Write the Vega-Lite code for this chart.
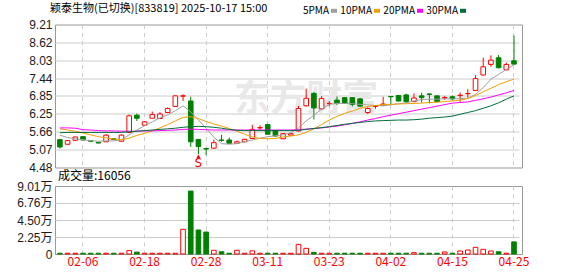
{
  "$schema": "https://vega.github.io/schema/vega-lite/v6.json",
  "background": "white",
  "padding": {"left": 16, "top": 2.5, "right": 0, "bottom": 0},
  "config": {
    "view": {"stroke": "#999999", "strokeWidth": 1},
    "font": "Noto Sans CJK SC"
  },
  "title": {
    "text": "颖泰生物(已切换)[833819] 2025-10-17 15:00",
    "anchor": "start",
    "frame": "group",
    "font": "Noto Sans CJK SC",
    "fontSize": 11,
    "fontWeight": "normal",
    "color": "#000000",
    "dx": -5,
    "dy": 8.5,
    "offset": 0
  },
  "datasets": {
    "k": [
      {"d":"01-27","o":5.40,"h":5.42,"l":5.11,"c":5.16,"v":1000,"m5":5.55,"m10":5.76,"m20":5.79,"m30":5.63},
      {"d":"02-04","o":5.25,"h":5.38,"l":5.24,"c":5.37,"v":1000,"m5":5.47,"m10":5.72,"m20":5.79,"m30":5.64},
      {"d":"02-05","o":5.38,"h":5.50,"l":5.37,"c":5.49,"v":1000,"m5":5.43,"m10":5.68,"m20":5.78,"m30":5.64},
      {"d":"02-06","o":5.50,"h":5.51,"l":5.38,"c":5.39,"v":1000,"m5":5.40,"m10":5.62,"m20":5.73,"m30":5.64},
      {"d":"02-07","o":5.37,"h":5.38,"l":5.34,"c":5.35,"v":1000,"m5":5.37,"m10":5.56,"m20":5.72,"m30":5.64},
      {"d":"02-10","o":5.31,"h":5.32,"l":5.28,"c":5.29,"v":1000,"m5":5.35,"m10":5.50,"m20":5.70,"m30":5.64},
      {"d":"02-11","o":5.33,"h":5.58,"l":5.32,"c":5.55,"v":1000,"m5":5.36,"m10":5.46,"m20":5.69,"m30":5.64},
      {"d":"02-12","o":5.43,"h":5.44,"l":5.40,"c":5.41,"v":1000,"m5":5.36,"m10":5.42,"m20":5.69,"m30":5.64},
      {"d":"02-13","o":5.35,"h":5.58,"l":5.33,"c":5.55,"v":1000,"m5":5.40,"m10":5.40,"m20":5.68,"m30":5.64},
      {"d":"02-14","o":5.64,"h":6.23,"l":5.62,"c":6.19,"v":4500,"m5":5.56,"m10":5.45,"m20":5.68,"m30":5.66},
      {"d":"02-17","o":6.21,"h":6.26,"l":6.02,"c":6.11,"v":2500,"m5":5.72,"m10":5.54,"m20":5.68,"m30":5.68},
      {"d":"02-18","o":5.88,"h":6.02,"l":5.87,"c":5.99,"v":1000,"m5":5.86,"m10":5.61,"m20":5.69,"m30":5.70},
      {"d":"02-19","o":6.11,"h":6.33,"l":6.10,"c":6.23,"v":1000,"m5":5.99,"m10":5.69,"m20":5.69,"m30":5.72},
      {"d":"02-20","o":6.10,"h":6.31,"l":6.08,"c":6.25,"v":1000,"m5":6.12,"m10":5.79,"m20":5.70,"m30":5.74},
      {"d":"02-21","o":6.30,"h":6.47,"l":6.28,"c":6.43,"v":1000,"m5":6.22,"m10":5.90,"m20":5.71,"m30":5.76},
      {"d":"02-24","o":6.50,"h":6.86,"l":6.48,"c":6.85,"v":1000,"m5":6.36,"m10":6.02,"m20":5.72,"m30":5.78},
      {"d":"02-25","o":6.84,"h":6.90,"l":6.68,"c":6.85,"v":32700,"m5":6.52,"m10":6.14,"m20":5.74,"m30":5.81},
      {"d":"02-26","o":6.68,"h":6.82,"l":5.16,"c":5.33,"v":83400,"m5":6.32,"m10":6.16,"m20":5.75,"m30":5.83},
      {"d":"02-27","o":5.41,"h":5.42,"l":4.92,"c":5.17,"v":31800,"m5":6.05,"m10":6.10,"m20":5.74,"m30":5.84},
      {"d":"02-28","o":5.11,"h":5.11,"l":4.89,"c":5.09,"v":29100,"m5":5.78,"m10":6.00,"m20":5.73,"m30":5.83},
      {"d":"03-03","o":5.12,"h":5.40,"l":5.10,"c":5.30,"v":4900,"m5":5.48,"m10":5.92,"m20":5.72,"m30":5.81},
      {"d":"03-04","o":5.39,"h":5.56,"l":5.33,"c":5.38,"v":3000,"m5":5.27,"m10":5.85,"m20":5.72,"m30":5.78},
      {"d":"03-05","o":5.39,"h":5.47,"l":5.28,"c":5.28,"v":1000,"m5":5.25,"m10":5.77,"m20":5.72,"m30":5.74},
      {"d":"03-06","o":5.28,"h":5.37,"l":5.27,"c":5.33,"v":4900,"m5":5.27,"m10":5.68,"m20":5.72,"m30":5.71},
      {"d":"03-07","o":5.33,"h":5.43,"l":5.32,"c":5.41,"v":1000,"m5":5.33,"m10":5.58,"m20":5.72,"m30":5.70},
      {"d":"03-08","o":5.44,"h":5.89,"l":5.42,"c":5.74,"v":4200,"m5":5.39,"m10":5.49,"m20":5.72,"m30":5.70},
      {"d":"03-10","o":5.79,"h":5.88,"l":5.73,"c":5.80,"v":1000,"m5":5.45,"m10":5.44,"m20":5.72,"m30":5.70},
      {"d":"03-11","o":5.90,"h":5.93,"l":5.57,"c":5.58,"v":1000,"m5":5.50,"m10":5.43,"m20":5.72,"m30":5.70},
      {"d":"03-12","o":5.70,"h":5.72,"l":5.51,"c":5.52,"v":1000,"m5":5.53,"m10":5.44,"m20":5.72,"m30":5.70},
      {"d":"03-13","o":5.43,"h":5.62,"l":5.42,"c":5.60,"v":1000,"m5":5.56,"m10":5.49,"m20":5.72,"m30":5.70},
      {"d":"03-14","o":5.55,"h":5.61,"l":5.54,"c":5.60,"v":1000,"m5":5.63,"m10":5.52,"m20":5.72,"m30":5.70},
      {"d":"03-17","o":5.69,"h":6.52,"l":5.67,"c":6.43,"v":12800,"m5":5.79,"m10":5.56,"m20":5.73,"m30":5.71},
      {"d":"03-18","o":6.52,"h":7.09,"l":6.50,"c":6.77,"v":7500,"m5":6.02,"m10":5.64,"m20":5.75,"m30":5.74},
      {"d":"03-19","o":6.93,"h":6.98,"l":6.07,"c":6.45,"v":2200,"m5":6.21,"m10":5.76,"m20":5.77,"m30":5.77},
      {"d":"03-20","o":6.42,"h":6.84,"l":6.40,"c":6.76,"v":1000,"m5":6.41,"m10":5.90,"m20":5.79,"m30":5.80},
      {"d":"03-23","o":6.59,"h":6.68,"l":6.50,"c":6.60,"v":1000,"m5":6.57,"m10":6.05,"m20":5.82,"m30":5.83},
      {"d":"03-24","o":6.71,"h":6.83,"l":6.55,"c":6.60,"v":1000,"m5":6.60,"m10":6.17,"m20":5.85,"m30":5.87},
      {"d":"03-25","o":6.79,"h":6.80,"l":6.59,"c":6.60,"v":1000,"m5":6.60,"m10":6.27,"m20":5.89,"m30":5.91},
      {"d":"03-26","o":6.79,"h":6.80,"l":6.50,"c":6.56,"v":1000,"m5":6.59,"m10":6.35,"m20":5.94,"m30":5.94},
      {"d":"03-27","o":6.75,"h":6.77,"l":6.50,"c":6.51,"v":1000,"m5":6.57,"m10":6.44,"m20":5.99,"m30":5.97},
      {"d":"03-28","o":6.30,"h":6.47,"l":6.25,"c":6.43,"v":1000,"m5":6.55,"m10":6.50,"m20":6.05,"m30":6.00},
      {"d":"03-31","o":6.50,"h":6.55,"l":6.42,"c":6.51,"v":1000,"m5":6.53,"m10":6.53,"m20":6.10,"m30":6.02},
      {"d":"04-01","o":6.54,"h":6.82,"l":6.53,"c":6.58,"v":1000,"m5":6.52,"m10":6.56,"m20":6.16,"m30":6.03},
      {"d":"04-02","o":6.83,"h":6.84,"l":6.57,"c":6.82,"v":1000,"m5":6.55,"m10":6.57,"m20":6.21,"m30":6.04},
      {"d":"04-03","o":6.86,"h":6.88,"l":6.66,"c":6.68,"v":1000,"m5":6.59,"m10":6.58,"m20":6.26,"m30":6.05},
      {"d":"04-07","o":6.88,"h":6.92,"l":6.61,"c":6.66,"v":1000,"m5":6.62,"m10":6.59,"m20":6.31,"m30":6.05},
      {"d":"04-08","o":6.66,"h":6.93,"l":6.64,"c":6.78,"v":1800,"m5":6.68,"m10":6.60,"m20":6.36,"m30":6.06},
      {"d":"04-09","o":6.85,"h":6.95,"l":6.63,"c":6.79,"v":1000,"m5":6.73,"m10":6.61,"m20":6.41,"m30":6.08},
      {"d":"04-10","o":6.91,"h":6.94,"l":6.60,"c":6.90,"v":1000,"m5":6.74,"m10":6.63,"m20":6.46,"m30":6.11},
      {"d":"04-11","o":6.85,"h":6.86,"l":6.64,"c":6.66,"v":1000,"m5":6.74,"m10":6.64,"m20":6.51,"m30":6.13},
      {"d":"04-14","o":6.78,"h":6.85,"l":6.72,"c":6.79,"v":2700,"m5":6.75,"m10":6.66,"m20":6.56,"m30":6.15},
      {"d":"04-15","o":6.82,"h":6.86,"l":6.70,"c":6.75,"v":1000,"m5":6.75,"m10":6.68,"m20":6.61,"m30":6.18},
      {"d":"04-16","o":6.86,"h":6.96,"l":6.65,"c":6.87,"v":4000,"m5":6.76,"m10":6.71,"m20":6.63,"m30":6.24},
      {"d":"04-17","o":6.92,"h":7.07,"l":6.79,"c":6.93,"v":5300,"m5":6.77,"m10":6.76,"m20":6.65,"m30":6.30},
      {"d":"04-18","o":7.03,"h":7.53,"l":7.01,"c":7.42,"v":8800,"m5":6.90,"m10":6.86,"m20":6.70,"m30":6.36},
      {"d":"04-21","o":7.54,"h":8.11,"l":7.52,"c":7.81,"v":6200,"m5":7.12,"m10":6.98,"m20":6.75,"m30":6.44},
      {"d":"04-22","o":7.89,"h":8.19,"l":7.81,"c":8.03,"v":4000,"m5":7.40,"m10":7.10,"m20":6.81,"m30":6.52},
      {"d":"04-23","o":8.11,"h":8.20,"l":7.76,"c":7.78,"v":3000,"m5":7.56,"m10":7.22,"m20":6.88,"m30":6.62},
      {"d":"04-24","o":7.71,"h":7.95,"l":7.70,"c":7.89,"v":1000,"m5":7.72,"m10":7.32,"m20":6.95,"m30":6.74},
      {"d":"04-25","o":8.01,"h":8.85,"l":7.88,"c":7.90,"v":16056,"m5":7.88,"m10":7.40,"m20":7.03,"m30":6.85}
    ],
    "sig": [{"d":"02-27","p":4.85,"s":4.64,"t":"S"}],
    "wm": [{"d":"03-18","p":6.72,"t":"东方财富"}]
  },
  "spacing": -5.5,
  "vconcat": [
    {
      "width": 467,
      "height": 143,
      "encoding": {
        "x": {
          "field": "d",
          "type": "ordinal",
          "scale": {"type": "band", "range": [0, 463.9], "paddingInner": 0.4, "paddingOuter": 0.337},
          "axis": {
            "values": ["02-06","02-18","02-28","03-11","03-23","04-02","04-15","04-25"],
            "labels": false, "ticks": false, "domain": false,
            "grid": true, "gridDash": [4, 4], "gridColor": "#cccccc", "bandPosition": 0.5,
            "title": null
          }
        },
        "y": {
          "type": "quantitative",
          "scale": {"domain": [4.48, 9.21], "nice": false, "zero": false},
          "axis": {
            "values": [4.48, 5.07, 5.66, 6.25, 6.85, 7.44, 8.03, 8.62, 9.21],
            "format": ".2f", "grid": true, "gridColor": "#cccccc",
            "gridOpacity": {"condition": {"test": "datum.value < 4.5 || datum.value > 9.2", "value": 0}, "value": 1},
            "ticks": false, "domain": false, "labelOverlap": false,
            "labelFont": "Liberation Sans", "labelFontSize": 12, "labelColor": "#1a1a1a",
            "labelPadding": 3, "title": null
          }
        }
      },
      "layer": [
        {
          "data": {"name": "wm"},
          "mark": {"type": "text", "fontSize": 36, "fontWeight": "bold", "color": "#e8e8e8", "font": "Noto Sans CJK SC"},
          "encoding": {
            "y": {"field": "p"},
            "text": {"field": "t"}
          }
        },
        {
          "data": {"name": "k"},
          "mark": {"type": "rule", "strokeWidth": 1},
          "encoding": {
            "y": {"field": "l"},
            "y2": {"field": "h"},
            "color": {"condition": {"test": "datum.c >= datum.o", "value": "#ff0000"}, "value": "#008000"}
          }
        },
        {
          "data": {"name": "k"},
          "mark": {"type": "bar", "strokeWidth": 1},
          "encoding": {
            "y": {"field": "o"},
            "y2": {"field": "c"},
            "fill": {"condition": {"test": "datum.c >= datum.o", "value": "#ffffff"}, "value": "#008000"},
            "stroke": {"condition": {"test": "datum.c >= datum.o", "value": "#ff0000"}, "value": "#008000"}
          }
        },
        {
          "data": {"name": "k"},
          "transform": [{"fold": ["m5", "m10", "m20", "m30"], "as": ["ma", "val"]}],
          "mark": {"type": "line", "strokeWidth": 1},
          "encoding": {
            "y": {"field": "val"},
            "color": {
              "field": "ma", "type": "nominal",
              "scale": {"domain": ["m5", "m10", "m20", "m30"], "range": ["#a0a0a0", "#f0a000", "#ff00ff", "#006e3c"]},
              "legend": {
                "orient": "none", "legendX": 274, "legendY": -18.7,
                "direction": "horizontal", "title": null,
                "symbolType": "stroke", "symbolSize": 36, "symbolStrokeWidth": 4,
                "labelFont": "Noto Sans CJK SC", "labelFontSize": 10, "labelColor": "#000000",
                "labelAlign": "right", "labelOffset": -10, "columnPadding": -5,
                "labelExpr": "{'m5':'5PMA','m10':'10PMA','m20':'20PMA','m30':'30PMA'}[datum.label]"
              }
            }
          }
        },
        {
          "data": {"name": "sig"},
          "mark": {"type": "point", "shape": "triangle-up", "filled": true, "size": 18, "color": "#ff0000", "opacity": 1},
          "encoding": {"y": {"field": "p"}}
        },
        {
          "data": {"name": "sig"},
          "mark": {"type": "text", "fontSize": 13, "font": "DejaVu Sans Mono", "color": "#ff0000", "baseline": "middle"},
          "encoding": {"y": {"field": "s"}, "text": {"field": "t"}}
        }
      ]
    },
    {
      "width": 467,
      "height": 68,
      "title": {
        "text": "成交量:16056", "anchor": "start", "frame": "group",
        "font": "Noto Sans CJK SC", "fontSize": 12, "fontWeight": "normal", "color": "#000000",
        "offset": -3, "dx": 3
      },
      "data": {"name": "k"},
      "mark": {"type": "bar", "strokeWidth": 1},
      "encoding": {
        "x": {
          "field": "d",
          "type": "ordinal",
          "scale": {"type": "band", "range": [0, 463.9], "paddingInner": 0.4, "paddingOuter": 0.337},
          "axis": {
            "values": ["02-06","02-18","02-28","03-11","03-23","04-02","04-15","04-25"],
            "ticks": false, "domain": false,
            "grid": true, "gridDash": [4, 4], "gridColor": "#cccccc", "bandPosition": 0.5,
            "labelFont": "Noto Sans CJK SC", "labelFontSize": 12, "labelColor": "#ff0000",
            "labelPadding": 2, "labelAngle": 0, "title": null
          }
        },
        "y": {
          "field": "v", "type": "quantitative",
          "scale": {"domain": [0, 90100], "nice": false, "zero": true},
          "axis": {
            "values": [0, 22500, 45000, 67600, 90100],
            "labelExpr": "datum.value == 0 ? '0' : format(datum.value / 10000, '.2f') + '万'",
            "grid": true, "gridColor": "#cccccc",
            "gridOpacity": {"condition": {"test": "datum.value < 100 || datum.value > 90000", "value": 0}, "value": 1},
            "ticks": false, "domain": false, "labelOverlap": false,
            "labelFont": "Liberation Sans, Noto Sans CJK SC", "labelFontSize": 12, "labelColor": "#1a1a1a",
            "labelPadding": 3, "title": null
          }
        },
        "fill": {"condition": {"test": "datum.c >= datum.o", "value": "#ffffff"}, "value": "#008000"},
        "stroke": {"condition": {"test": "datum.c >= datum.o", "value": "#ff0000"}, "value": "#008000"}
      }
    }
  ]
}
